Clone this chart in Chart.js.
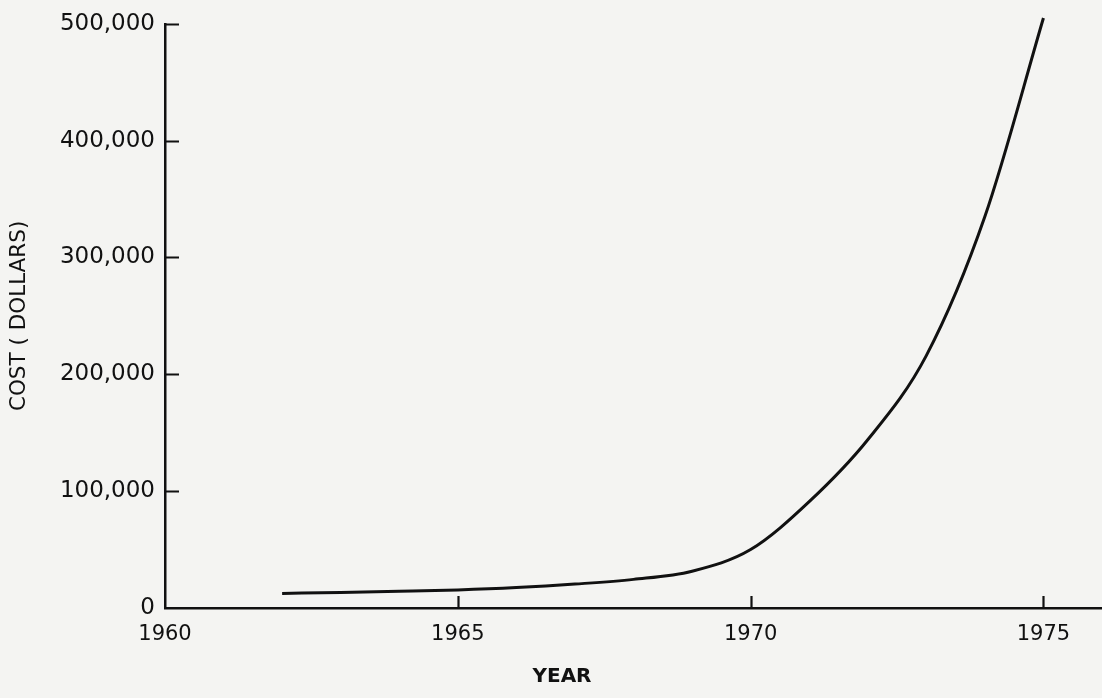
<!DOCTYPE html>
<html>
<head>
<meta charset="utf-8">
<script src="https://cdn.jsdelivr.net/npm/chart.js@4/dist/chart.umd.min.js"></script>
<style>
  html, body { margin: 0; padding: 0; background: #f4f4f2; }
  #wrap { width: 1102px; height: 698px; }
  canvas { display: block; }
</style>
</head>
<body>
<div id="wrap"><canvas id="c" width="1102" height="698"></canvas></div>
<script>
// Cost by year
const years = [1962, 1963, 1964, 1965, 1966, 1967, 1968, 1969, 1970, 1971, 1972, 1973, 1974, 1975];
const costs = [12500, 13300, 14300, 15500, 17500, 20500, 24500, 31500, 50000, 91000, 144000, 216000, 335000, 505000];

// Axis ticks and captions
const xTickYears = [1960, 1965, 1970, 1975];
const yTickValues = [0, 100000, 200000, 300000, 400000, 500000];
const xTitle = 'YEAR';
const yTitle = 'COST ( DOLLARS)';

const INK = '#111111';
const FONT = 'DejaVu Sans';

// Short tick marks pointing into the plot, like a hand-drafted axis
const inwardTicks = {
  id: 'inwardTicks',
  afterDraw(chart) {
    const { ctx, chartArea, scales } = chart;
    ctx.save();
    ctx.strokeStyle = INK;
    ctx.lineWidth = 2.2;
    ctx.beginPath();
    yTickValues.slice(1).forEach(v => {
      const py = Math.round(scales.y.getPixelForValue(v)) + 0.5;
      ctx.moveTo(chartArea.left, py);
      ctx.lineTo(chartArea.left + 14, py);
    });
    xTickYears.slice(1).forEach(v => {
      const px = Math.round(scales.x.getPixelForValue(v)) + 0.5;
      ctx.moveTo(px, chartArea.bottom);
      ctx.lineTo(px, chartArea.bottom - 12);
    });
    ctx.stroke();
    ctx.restore();
  }
};

new Chart(document.getElementById('c'), {
  type: 'line',
  data: {
    datasets: [{
      data: years.map((x, i) => ({ x: x, y: costs[i] })),
      borderColor: INK,
      borderWidth: 3,
      pointRadius: 0,
      fill: false,
      cubicInterpolationMode: 'monotone',
      clip: false
    }]
  },
  options: {
    responsive: false,
    animation: false,
    layout: { padding: { left: 22, right: 0, top: 22, bottom: 9 } },
    plugins: {
      legend: { display: false },
      tooltip: { enabled: false },
      title: {
        display: true,
        position: 'bottom',
        text: xTitle,
        color: INK,
        padding: 0,
        font: { family: FONT, size: 20, weight: 'bold', lineHeight: 1.2 }
      }
    },
    scales: {
      x: {
        type: 'linear',
        min: 1960,
        max: 1976,
        afterBuildTicks: s => { s.ticks = xTickYears.map(v => ({ value: v })); },
        afterFit: s => { s.height = 57; s.paddingLeft = 0; s.paddingRight = 0; },
        grid: { display: true, drawOnChartArea: false, drawTicks: false, color: 'rgba(0,0,0,0)' },
        border: { display: true, color: INK, width: 2.5 },
        ticks: {
          padding: 14,
          color: INK,
          maxRotation: 0,
          autoSkip: false,
          font: { family: FONT, size: 21, lineHeight: 1.2 },
          callback: v => String(v)
        }
      },
      y: {
        min: 0,
        max: 500000,
        afterBuildTicks: s => { s.ticks = yTickValues.map(v => ({ value: v })); },
        afterFit: s => { s.width = 143; },
        grid: { display: true, drawOnChartArea: false, drawTicks: false, color: 'rgba(0,0,0,0)' },
        border: { display: true, color: INK, width: 2.5 },
        ticks: {
          padding: 10,
          color: INK,
          autoSkip: false,
          font: { family: FONT, size: 23, lineHeight: 1.2 },
          callback: v => v.toLocaleString('en-US')
        },
        title: {
          display: true,
          text: yTitle,
          color: INK,
          padding: { top: -15, bottom: 0 },
          font: { family: FONT, size: 21.5, lineHeight: 1.2 }
        }
      }
    }
  },
  plugins: [inwardTicks]
});
</script>
</body>
</html>
